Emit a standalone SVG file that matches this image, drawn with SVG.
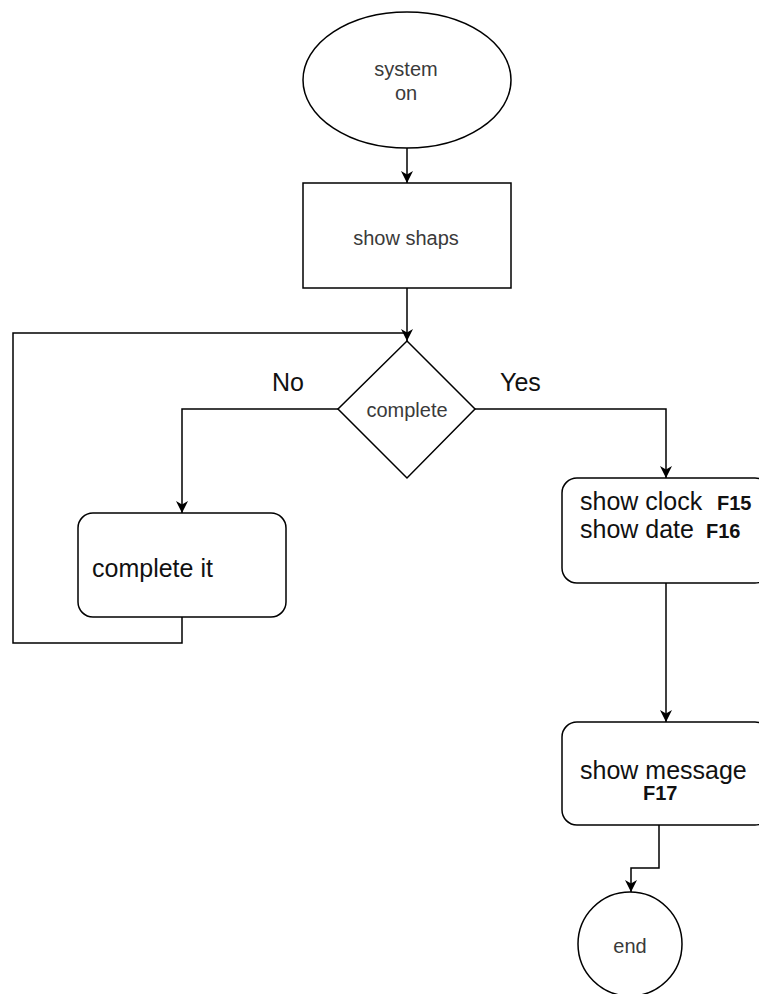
<svg xmlns="http://www.w3.org/2000/svg" width="759" height="994" viewBox="0 0 759 994">
<style>
.shape{fill:#ffffff;stroke:#000000;stroke-width:1.5}
.conn{fill:none;stroke:#000000;stroke-width:1.5}
.small{font-family:"Liberation Sans",Arial,sans-serif;font-size:20px;fill:#3a3a3a}
.big{font-family:"Liberation Sans",Arial,sans-serif;font-size:25px;fill:#111111}
.code{font-family:"Liberation Sans",Arial,sans-serif;font-size:20px;font-weight:bold;fill:#111111}
</style>
<defs>
<marker id="arr" viewBox="0 0 10 10" refX="10" refY="5" markerWidth="12" markerHeight="12" markerUnits="userSpaceOnUse" orient="auto">
<path d="M0,0 L10,5 L0,10 L3,5 Z" fill="#000000"/>
</marker>
</defs>
<rect width="759" height="994" fill="#ffffff"/>
<g id="connectors">
<line class="conn" x1="407" y1="148" x2="407" y2="183" marker-end="url(#arr)"/>
<line class="conn" x1="407" y1="288" x2="407" y2="341" marker-end="url(#arr)"/>
<polyline class="conn" points="338,409 182,409 182,513" marker-end="url(#arr)"/>
<polyline class="conn" points="475,409 666,409 666,478" marker-end="url(#arr)"/>
<polyline class="conn" points="182,617 182,643 13,643 13,333 407,333"/>
<line class="conn" x1="666" y1="583" x2="666" y2="722" marker-end="url(#arr)"/>
<polyline class="conn" points="659,825 659,868 631,868 631,892" marker-end="url(#arr)"/>
<text class="big" x="272" y="391">No</text>
<text class="big" x="500" y="391">Yes</text>
</g>
<g id="start">
<ellipse class="shape" cx="407" cy="80" rx="104" ry="68"/>
<text class="small" x="406" y="76" text-anchor="middle">system</text>
<text class="small" x="406" y="100" text-anchor="middle">on</text>
</g>
<g id="show-shaps">
<rect class="shape" x="303" y="183" width="208" height="105"/>
<text class="small" x="406" y="245" text-anchor="middle">show shaps</text>
</g>
<g id="decision">
<polygon class="shape" points="407,341 475,409 407,478 338,409"/>
<text class="small" x="407" y="417" text-anchor="middle">complete</text>
</g>
<g id="complete-it">
<rect class="shape" x="78" y="513" width="208" height="104" rx="15" ry="15"/>
<text class="big" x="92" y="577">complete it</text>
</g>
<g id="show-clock">
<rect class="shape" x="562" y="478" width="208" height="105" rx="15" ry="15"/>
<text class="big" x="580" y="510">show clock</text>
<text class="code" x="717" y="510">F15</text>
<text class="big" x="580" y="538">show date</text>
<text class="code" x="706" y="538">F16</text>
</g>
<g id="show-message">
<rect class="shape" x="562" y="722" width="208" height="103" rx="15" ry="15"/>
<text class="big" x="580" y="779">show message</text>
<text class="code" x="643" y="800">F17</text>
</g>
<g id="end">
<circle class="shape" cx="630" cy="944" r="52"/>
<text class="small" x="630" y="953" text-anchor="middle">end</text>
</g>
</svg>
